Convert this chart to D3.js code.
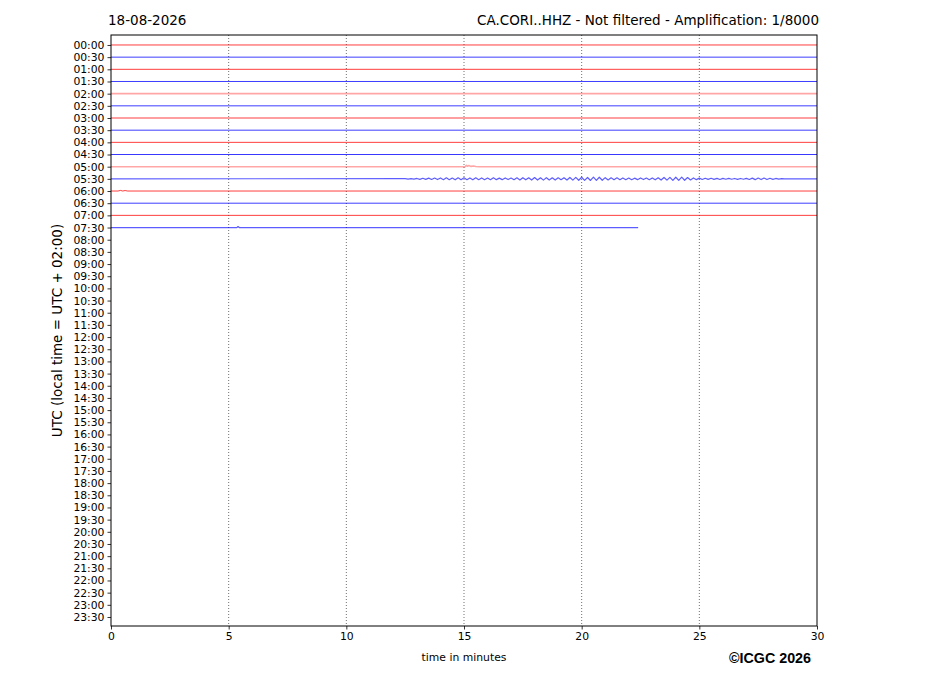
<!DOCTYPE html>
<html><head><meta charset="utf-8">
<script src="https://cdn.jsdelivr.net/npm/d3@7"></script>
<style>body{margin:0;background:#fff}svg{display:block}text{font-family:"DejaVu Sans",sans-serif}</style>
</head><body>
<svg id="c" width="927" height="696"></svg>
<script>
// ---- data ----
const dateLabel = "18-08-2026";
const titleLabel = "CA.CORI..HHZ - Not filtered - Amplification: 1/8000";
const yAxisLabel = "UTC (local time = UTC + 02:00)";
const xAxisLabel = "time in minutes";
const credit = "\u00a9ICGC 2026";
const rowLabels = d3.range(48).map(i => String(Math.floor(i/2)).padStart(2,"0") + ":" + (i%2 ? "30" : "00"));
const xTicks = [0, 5, 10, 15, 20, 25, 30];
const gridMinutes = [5, 10, 15, 20, 25];
// rows with data (index into rowLabels), end minute of each trace
const traceRows = d3.range(16);
const traceEnds = [30,30,30,30,30,30,30,30,30,30,30,30,30,30,30,22.4];
// background noise level of each trace (relative)
const traceNoise = [1,1,1,1,2.4,1,1,1,1,1.2,2.4,1.6,1,1,1,1.6];
// 05:30 trace: samples every 0.125 min starting at 12.5 min (amplitude, px-equivalent counts)
const row1130Start = 12.5;
const row1130Values = [
  0.2,-0.2,0.3,-0.2,
  0.4,-0.5,0.6,-0.5,0.7,-0.6,0.8,-0.7,
  0.9,-0.8,1.0,-0.9,0.8,-1.0,1.1,-0.9,
  1.0,-0.9,0.9,-1.0,1.0,-0.8,0.9,-0.9,
  0.8,-0.9,1.0,-0.8,0.7,-0.8,0.9,-0.7,
  0.8,-0.9,1.0,-1.1,1.2,-1.0,1.1,-1.2,
  1.3,-1.2,1.1,-1.3,1.2,-1.1,1.0,-1.2,
  1.0,-0.9,1.1,-1.2,1.4,-1.3,1.5,-1.4,
  1.6,-1.5,1.4,-1.6,1.7,-1.5,1.6,-1.4,
  1.2,-1.1,1.0,-0.9,1.0,-0.8,0.9,-0.8,
  0.8,-0.9,0.7,-0.8,0.9,-0.7,0.8,-0.9,
  0.9,-1.0,1.1,-1.2,1.4,-1.3,1.5,-1.6,
  1.6,-1.5,1.7,-1.4,1.3,-1.1,0.9,-0.8,
  0.7,-0.6,0.6,-0.5,0.6,-0.5,0.5,-0.6,
  0.5,-0.4,0.5,-0.4,0.4,-0.5,0.4,-0.4,
  0.5,-0.6,0.7,-0.8,0.8,-0.7,0.8,-0.7,
  0.6,-0.5,0.4,-0.3,0.2,0
];
// 05:00 trace: small arrival near 15.1 min
const row10Times = [15.05, 15.1, 15.15, 15.2, 15.3, 15.4, 15.5, 15.65];
const row10Values = [0, 1.4, 0.4, 1.1, 0.3, 0.7, 0.2, 0];
// 07:30 trace: tiny spike near 5.4 min
const row15Times = [5.35, 5.4, 5.45];
const row15Values = [0, 1.0, 0];
// 06:00 trace: small bumps at start
const row12Times = [0.3, 0.4, 0.5, 0.6, 0.7];
const row12Values = [0, 0.6, 0, 0.5, 0];

// ---- layout ----
const svg = d3.select("#c");
const L = 111, R = 817, T = 35, B = 626;
const x = d3.scaleLinear().domain([0, 30]).range([L, R]);
const y = d3.scaleLinear().domain([-0.82, 47.74]).range([T, B]);
const amp = d3.scaleLinear().domain([0, 1]).range([0, -1]);
const noiseOpacity = d3.scaleLinear().domain([1, 2.4]).range([0.85, 0.35]);
const noiseWidth = d3.scaleLinear().domain([1, 2.4]).range([0.9, 1.6]);
const colorOf = i => (i % 2 ? "#0000ff" : "#ff0000");

// grid
svg.append("g").selectAll("line").data(gridMinutes).join("line")
  .attr("x1", d => x(d)).attr("x2", d => x(d)).attr("y1", T).attr("y2", B)
  .attr("stroke", "#333").attr("stroke-width", 0.7).attr("stroke-dasharray", "1,2");

// traces
function eventsFor(r) {
  if (r === 11) return row1130Values.map((v, k) => [row1130Start + k * 0.125, v]);
  if (r === 10) return row10Times.map((t, k) => [t, row10Values[k]]);
  if (r === 15) return row15Times.map((t, k) => [t, row15Values[k]]);
  if (r === 12) return row12Times.map((t, k) => [t, row12Values[k]]);
  return [];
}
const line = d3.line().x(d => x(d[0])).y(d => d[2] + amp(d[1]));
traceRows.forEach((r, k) => {
  const pts = [[0, 0]].concat(eventsFor(r), [[traceEnds[k], 0]]).map(p => [p[0], p[1], y(r)]);
  svg.append("path").attr("d", line(pts)).attr("fill", "none")
    .attr("stroke", colorOf(r)).attr("stroke-width", noiseWidth(traceNoise[k]))
    .attr("stroke-opacity", noiseOpacity(traceNoise[k])).attr("stroke-linejoin", "round");
});

// axes
const yAxis = d3.axisLeft(y).tickValues(d3.range(48)).tickFormat(i => rowLabels[i]).tickSize(3.5).tickPadding(3);
const xAxis = d3.axisBottom(x).tickValues(xTicks).tickSize(3.5).tickPadding(3);
const gy = svg.append("g").attr("transform", `translate(${L},0)`).call(yAxis);
const gx = svg.append("g").attr("transform", `translate(0,${B})`).call(xAxis);
[gx, gy].forEach(g => {
  g.select(".domain").remove();
  g.selectAll(".tick line").attr("stroke", "#000").attr("stroke-width", 0.8);
  g.selectAll(".tick text").attr("fill", "#000").style("font-size", "10.8px").style("font-family", "DejaVu Sans");
});
// frame
svg.append("rect").attr("x", L).attr("y", T).attr("width", R - L).attr("height", B - T)
  .attr("fill", "none").attr("stroke", "#000").attr("stroke-width", 1);

// texts
svg.append("text").attr("x", 108).attr("y", 25).style("font-size", "13.5px").text(dateLabel);
svg.append("text").attr("x", 819).attr("y", 25).attr("text-anchor", "end").style("font-size", "13.5px").text(titleLabel);
svg.append("text").attr("transform", `translate(62,${(T + B) / 2}) rotate(-90)`).attr("text-anchor", "middle")
  .style("font-size", "13.5px").text(yAxisLabel);
svg.append("text").attr("x", (L + R) / 2).attr("y", 661).attr("text-anchor", "middle").style("font-size", "10.8px").text(xAxisLabel);
svg.append("text").attr("x", 811).attr("y", 663).attr("text-anchor", "end").style("font-size", "14.3px")
  .style("font-weight", "bold").style("font-family", "Liberation Sans, Arial, sans-serif").text(credit);
</script>
</body></html>
